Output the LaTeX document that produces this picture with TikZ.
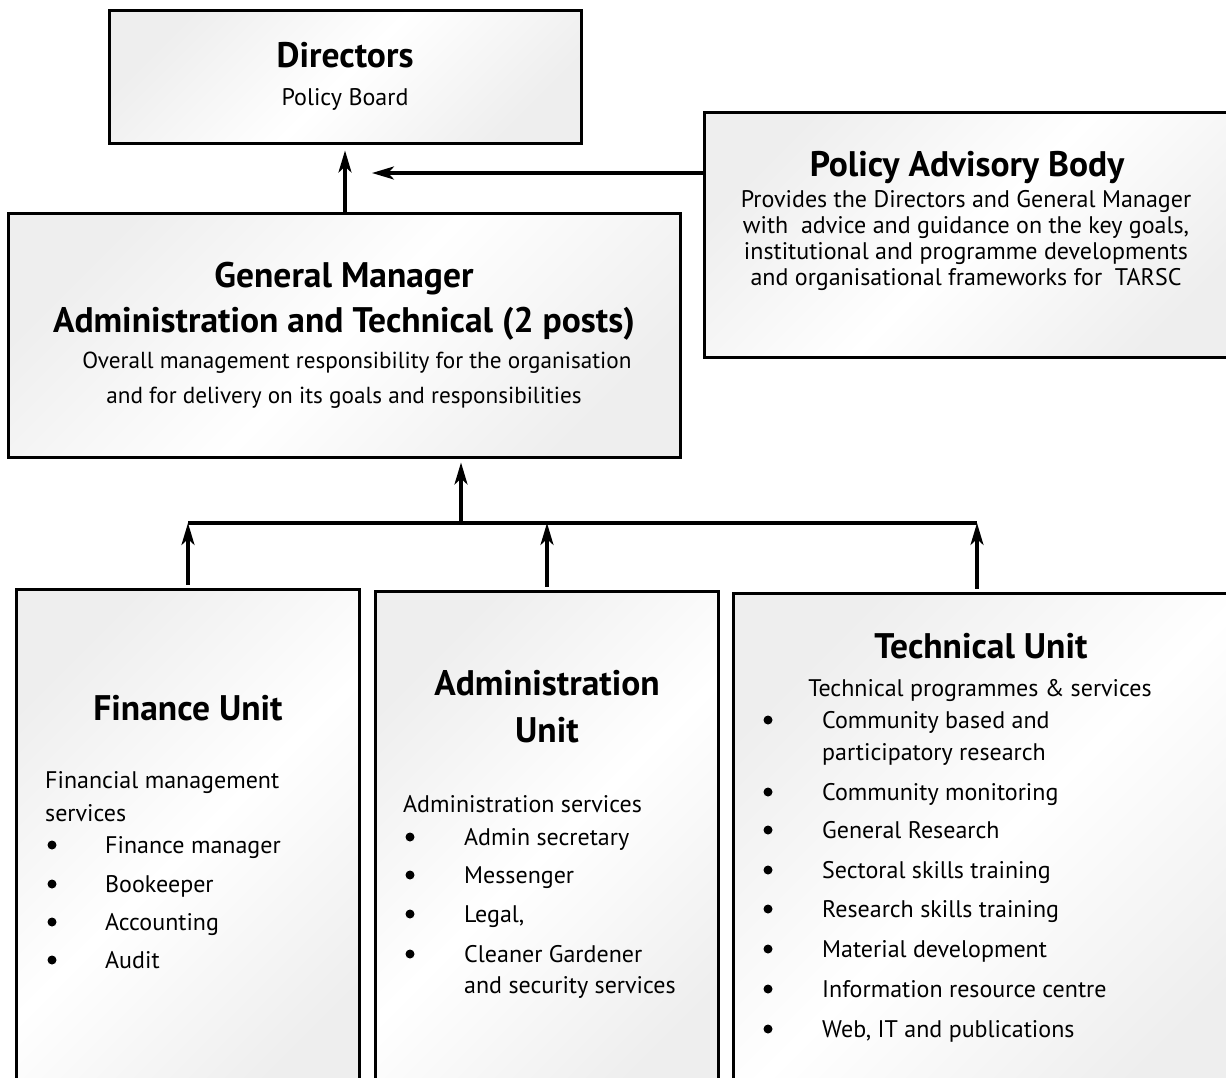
\documentclass[tikz,border=0pt]{standalone}
\usepackage{fontspec}
\setmainfont{PT Sans}
\usetikzlibrary{arrows.meta}
\newcommand\mytitle{\fontsize{35.5}{40}\selectfont\bfseries}
\newcommand\mybody{\fontsize{24}{26}\selectfont}
\newcommand\mygmbody{\fontsize{23.2}{26}\selectfont}
\begin{document}
\begin{tikzpicture}[x=1pt,y=-1pt,
  box/.style={draw=black, line width=3pt, rectangle, inner sep=0pt,
    top color=gray!13, bottom color=gray!13, middle color=white, shading angle=45},
  conn/.style={line width=3.2pt, draw=black},
  arr/.style={conn, -{Stealth[length=22pt,width=13pt,inset=6pt]}},
  txt/.style={inner sep=0pt, anchor=base},
  ltxt/.style={inner sep=0pt, anchor=base west, font=\mybody},
  dot/.style={circle, fill=black, inner sep=0pt, minimum size=9pt},
]
\useasboundingbox (0,0) rectangle (1226,1077);
\clip (0,0) rectangle (1226,1077);

% boxes
\node[box, minimum width=472pt, minimum height=133pt] (dir) at (345,76.5) {};
\node[box, minimum width=540pt, minimum height=245pt] (pab) at (974,234.5) {};
\node[box, minimum width=672pt, minimum height=244pt] (gm) at (344,335) {};
\node[box, minimum width=343pt, minimum height=520pt] (fin) at (187.5,849) {};
\node[box, minimum width=343pt, minimum height=520pt] (adm) at (546.5,851) {};
\node[box, minimum width=510pt, minimum height=520pt] (tech) at (988,853) {};

% Directors
\node[txt, font=\mytitle] (dirT) at (345,67) {Directors};
\node[txt, font=\mybody] (dirS) at (345,105) {Policy Board};

% Policy Advisory Body
\node[txt, font=\mytitle] (pabT) at (967,176) {Policy Advisory Body};
\node[txt, font=\mybody] (pab1) at (966,207) {Provides the Directors and General Manager};
\node[txt, font=\mybody] (pab2) at (966,233) {with\ \ advice and guidance on the key goals,};
\node[txt, font=\mybody] (pab3) at (966,259) {institutional and programme developments};
\node[txt, font=\mybody] (pab4) at (966,285) {and organisational frameworks for\ \ TARSC};

% General Manager
\node[txt, font=\mytitle] (gmT1) at (344,287) {General Manager};
\node[txt, font=\mytitle] (gmT2) at (344,332) {Administration and Technical (2 posts)};
\node[txt, font=\mygmbody] (gm1) at (357,368) {Overall management responsibility for the organisation};
\node[txt, font=\mygmbody] (gm2) at (344,403) {and for delivery on its goals and responsibilities};

% Finance Unit
\node[txt, font=\mytitle] (finT) at (188,720) {Finance Unit};
\node[ltxt] (fin1) at (45,788) {Financial management};
\node[ltxt] (fin2) at (45,821) {services};
\foreach \t/\y [count=\i] in {Finance manager/853, Bookeeper/892, Accounting/930, Audit/968}{
  \node[dot] (finb\i) at (52,\y-8) {};
  \node[ltxt] (fini\i) at (105,\y) {\t};
}

% Administration Unit
\node[txt, font=\mytitle] (admT1) at (547,695) {Administration};
\node[txt, font=\mytitle] (admT2) at (547,742) {Unit};
\node[ltxt] (adm1) at (403,812) {Administration services};
\foreach \t/\y [count=\i] in {Admin secretary/845, Messenger/883, {Legal,}/922, Cleaner Gardener/962}{
  \node[dot] (admb\i) at (410,\y-8) {};
  \node[ltxt] (admi\i) at (464,\y) {\t};
}
\node[ltxt] (adm2) at (464,993) {and security services};

% Technical Unit
\node[txt, font=\mytitle] (techT) at (981,658) {Technical Unit};
\node[txt, font=\mybody] (tech1) at (980,696) {Technical programmes \& services};
\foreach \t/\y [count=\i] in {Community based and/728, Community monitoring/800, General Research/838,
  Sectoral skills training/878, Research skills training/917, Material development/957,
  Information resource centre/997, {Web, IT and publications}/1037}{
  \node[dot] (techb\i) at (768,\y-8) {};
  \node[ltxt] (techi\i) at (822,\y) {\t};
}
\node[ltxt] (tech2) at (822,760) {participatory research};

% connectors
\coordinate (busL) at (188,523);
\coordinate (busM) at (461,523);
\coordinate (busA) at (547,523);
\coordinate (busR) at (977,523);
\coordinate (hA) at (372,173);
\draw[conn] (busL) -- (busR);
\draw[arr, shorten >=4pt] (busM) -- (gm.south -| busM);
\draw[arr, shorten <=3pt] (fin.north -| busL) -- (busL);
\draw[arr, shorten <=3pt] (adm.north -| busA) -- (busA);
\draw[arr, shorten <=3pt] (tech.north -| busR) -- (busR);
\draw[arr, shorten >=6pt] (gm.north -| dirT) -- (dir.south -| dirT);
\draw[arr] (pab.west |- hA) -- (hA);
\end{tikzpicture}
\end{document}
